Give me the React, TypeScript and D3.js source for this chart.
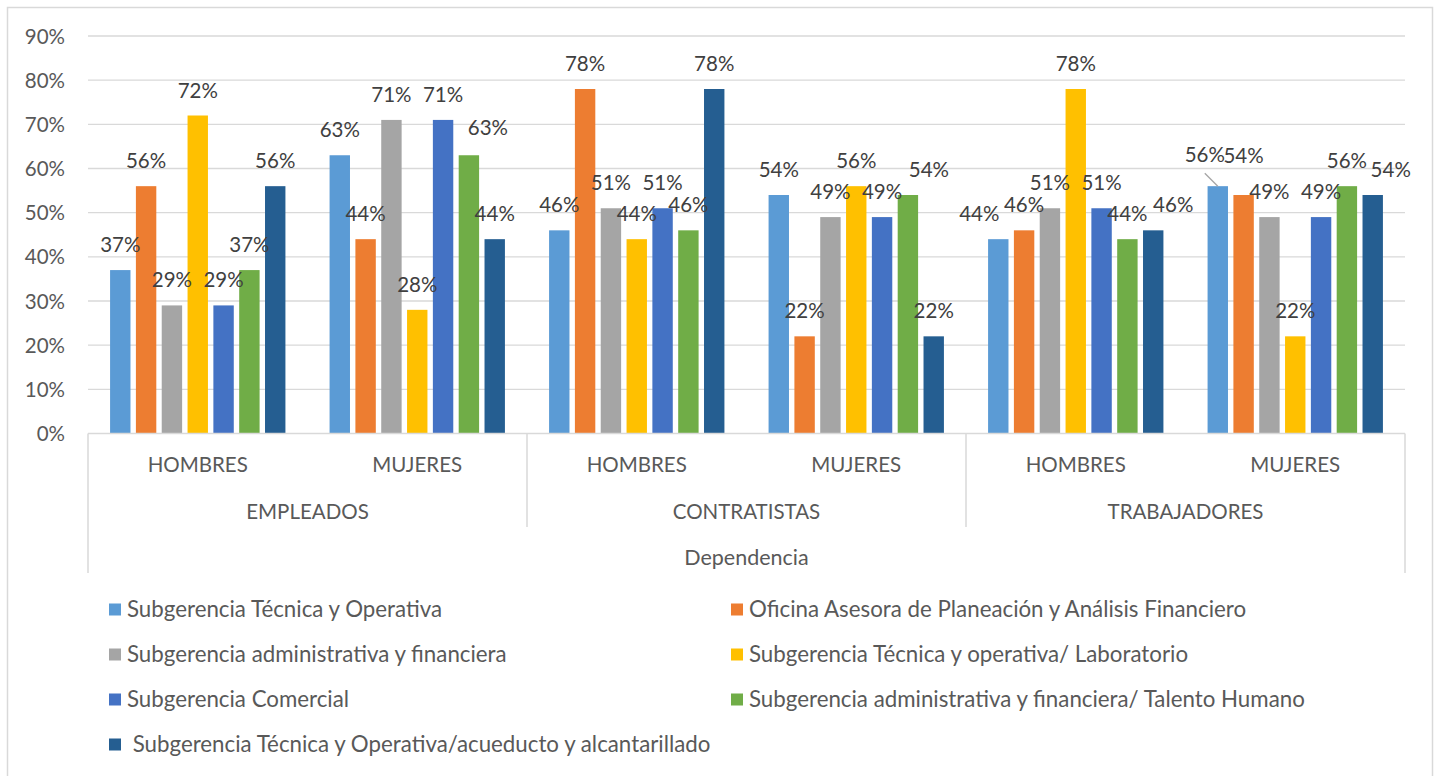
import React from "react";
import * as d3 from "d3";

// categories
const groups = ["EMPLEADOS", "CONTRATISTAS", "TRABAJADORES"];
const subgroups = ["HOMBRES", "MUJERES"];
const axisTitle = "Dependencia";

// series (one value per group/subgroup pair, in %)
const seriesNames = [
  "Subgerencia Técnica y Operativa",
  "Oficina Asesora de Planeación y Análisis Financiero",
  "Subgerencia administrativa y financiera",
  "Subgerencia Técnica y operativa/ Laboratorio",
  "Subgerencia Comercial",
  "Subgerencia administrativa y financiera/ Talento Humano",
  " Subgerencia Técnica y Operativa/acueducto y alcantarillado",
];
const tecnicaOperativa = [37, 63, 46, 54, 44, 56];
const oficinaPlaneacion = [56, 44, 78, 22, 46, 54];
const adminFinanciera = [29, 71, 51, 49, 51, 49];
const laboratorio = [72, 28, 44, 56, 78, 22];
const comercial = [29, 71, 51, 49, 51, 49];
const talentoHumano = [37, 63, 46, 54, 44, 56];
const acueducto = [56, 44, 78, 22, 46, 54];
const seriesValues = [
  tecnicaOperativa,
  oficinaPlaneacion,
  adminFinanciera,
  laboratorio,
  comercial,
  talentoHumano,
  acueducto,
];
const yTicks = [0, 10, 20, 30, 40, 50, 60, 70, 80, 90];

const colors = ["#5B9BD5", "#ED7D31", "#A5A5A5", "#FFC000", "#4472C4", "#70AD47", "#255E91"];

// label nudges (category index-series index) as in the original layout
const nudges: Record<string, { dx: number; dy: number; leader?: boolean }> = {
  "1-5": { dx: 19, dy: -2 },
  "3-5": { dx: 21, dy: 0 },
  "4-0": { dx: -19, dy: 0 },
  "4-6": { dx: 20, dy: 0 },
  "5-0": { dx: -13, dy: -6, leader: true },
  "5-1": { dx: 0, dy: -14 },
  "5-6": { dx: 18, dy: 0 },
};

const FONT = "Lato, 'Noto Sans', sans-serif";

const App = () => {
  const width = 1439;
  const height = 776;
  const left = 88;
  const right = 1405;
  const top = 36;
  const bottom = 433.5;
  const catBottom = 573;

  const categories = groups.flatMap((g) => subgroups.map((s) => `${g}|${s}`));

  const x0 = d3.scaleBand().domain(categories).range([left, right]).padding(0);
  const x1 = d3
    .scaleBand()
    .domain(d3.range(seriesNames.length).map(String))
    .range([0, x0.bandwidth()])
    .paddingInner(0.21)
    .paddingOuter(0.855);
  const y = d3.scaleLinear().domain([0, 90]).range([bottom, top]);

  const groupW = x0.bandwidth() * subgroups.length;

  return (
    <svg width={width} height={height} style={{ position: "absolute", left: 0, top: 0, background: "#fff" }}>
      <rect x={7.5} y={7.5} width={1425} height={790} fill="#fff" stroke="#d9d9d9" strokeWidth={1.5} />

      {/* gridlines + y ticks */}
      {yTicks.map((t) => (
        <g key={t}>
          {t > 0 && <line x1={left} x2={right} y1={y(t)} y2={y(t)} stroke="#d9d9d9" strokeWidth={1.3} />}
          <text x={65} y={y(t) + 7.5} textAnchor="end" fontFamily={FONT} fontSize={20.5} fill="#595959">
            {t}%
          </text>
        </g>
      ))}

      {/* bars */}
      {categories.map((c, ci) =>
        seriesValues.map((vals, si) => {
          const bx = (x0(c) as number) + (x1(String(si)) as number);
          return (
            <rect
              key={`${c}-${si}`}
              x={bx}
              y={y(vals[ci])}
              width={x1.bandwidth()}
              height={bottom - y(vals[ci])}
              fill={colors[si]}
            />
          );
        })
      )}

      {/* data labels */}
      {categories.map((c, ci) =>
        seriesValues.map((vals, si) => {
          const cx = (x0(c) as number) + (x1(String(si)) as number) + x1.bandwidth() / 2;
          const ty = y(vals[ci]);
          const n = nudges[`${ci}-${si}`] || { dx: 0, dy: 0 };
          return (
            <g key={`l-${c}-${si}`}>
              {n.leader && (
                <line x1={cx - 13} y1={ty - 13} x2={cx} y2={ty} stroke="#a6a6a6" strokeWidth={1.3} />
              )}
              <text
                x={cx + n.dx}
                y={ty - 18 + n.dy}
                textAnchor="middle"
                fontFamily={FONT}
                fontSize={20.5}
                fill="#404040"
              >
                {vals[ci]}%
              </text>
            </g>
          );
        })
      )}

      {/* category axis */}
      <line x1={left} x2={right} y1={bottom} y2={bottom} stroke="#d9d9d9" strokeWidth={1.5} />
      <line x1={left} x2={left} y1={bottom} y2={catBottom} stroke="#d9d9d9" strokeWidth={1.5} />
      <line x1={right} x2={right} y1={bottom} y2={catBottom} stroke="#d9d9d9" strokeWidth={1.5} />
      {groups.slice(1).map((g, gi) => (
        <line
          key={g}
          x1={left + groupW * (gi + 1)}
          x2={left + groupW * (gi + 1)}
          y1={bottom}
          y2={527}
          stroke="#d9d9d9"
          strokeWidth={1.5}
        />
      ))}
      {categories.map((c) => (
        <text
          key={`s-${c}`}
          x={(x0(c) as number) + x0.bandwidth() / 2}
          y={472}
          textAnchor="middle"
          fontFamily={FONT}
          fontSize={20.5}
          fill="#595959"
        >
          {c.split("|")[1]}
        </text>
      ))}
      {groups.map((g, gi) => (
        <text
          key={`g-${g}`}
          x={left + groupW * gi + groupW / 2}
          y={519}
          textAnchor="middle"
          fontFamily={FONT}
          fontSize={20.5}
          fill="#595959"
        >
          {g}
        </text>
      ))}
      <text x={(left + right) / 2} y={565} textAnchor="middle" fontFamily={FONT} fontSize={21.5} fill="#595959">
        {axisTitle}
      </text>

      {/* legend */}
      {seriesNames.map((name, i) => {
        const col = i % 2;
        const row = Math.floor(i / 2);
        const lx = col === 0 ? 109 : 731;
        const ly = 609.5 + row * 45;
        return (
          <g key={name}>
            <rect x={lx} y={ly - 6} width={12} height={12} fill={colors[i]} />
            <text
              x={lx + 18}
              y={ly + 7}
              fontFamily={FONT}
              fontSize={22.3}
              fill="#595959"
              style={{ whiteSpace: "pre" }}
            >
              {name}
            </text>
          </g>
        );
      })}
    </svg>
  );
};

export default App;
